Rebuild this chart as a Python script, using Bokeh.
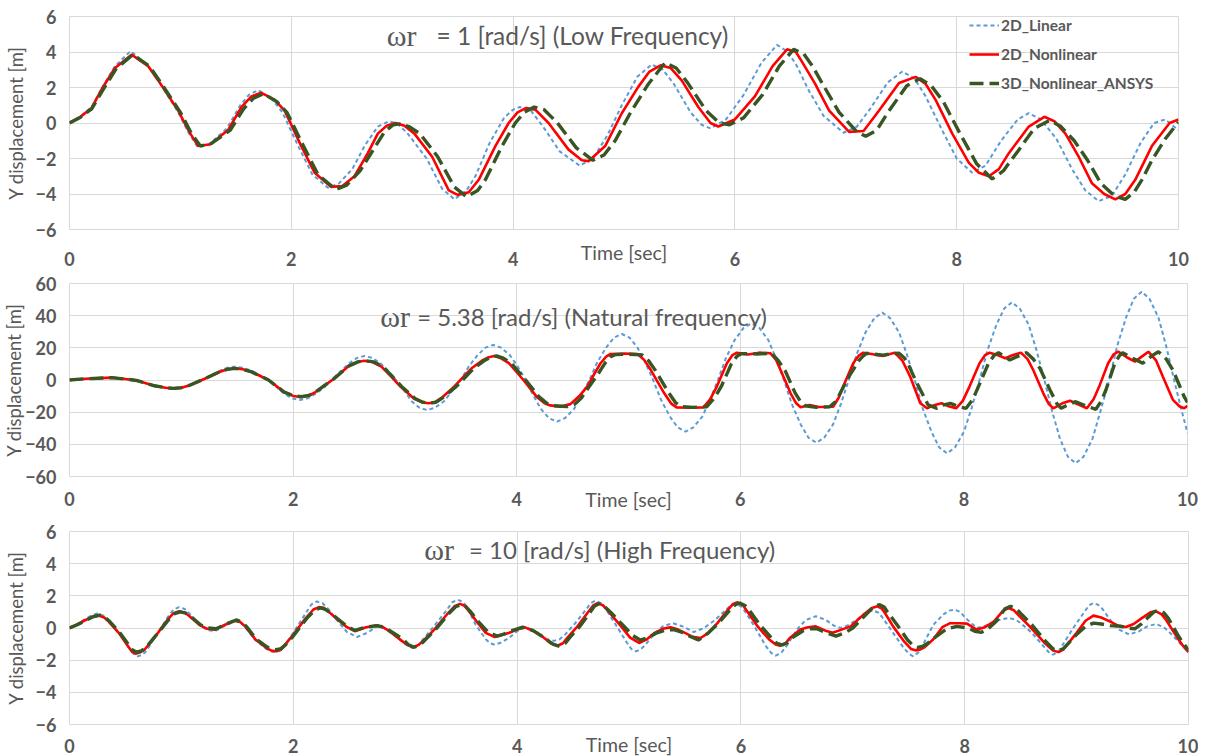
from bokeh.plotting import figure
from bokeh.models import Range1d, FixedTicker, Label, Legend, LegendItem
from bokeh.layouts import column
from bokeh.embed import file_html
from bokeh.resources import INLINE

# ---------------- data (time [s], Y displacement [m]) ----------------
# Panel 1: wr = 1 rad/s
p1_linear = [(0,0),(0.1,0.38),(0.2,0.9),(0.29,1.95),(0.41,3.2),(0.55,4.05),(0.7,3.3),(0.8,2.4),(0.98,0.6),(1.07,-0.5),(1.15,-1.3),(1.25,-1.25),(1.42,-0.3),(1.54,1.0),(1.62,1.6),(1.70,1.85),(1.82,1.4),(1.92,0.6),(2.07,-1.4),(2.19,-2.9),(2.33,-3.65),(2.43,-3.4),(2.55,-2.6),(2.66,-1.3),(2.78,-0.2),(2.88,0.1),(2.96,-0.05),(3.05,-0.6),(3.22,-2.0),(3.36,-3.7),(3.47,-4.3),(3.58,-3.8),(3.66,-3.0),(3.79,-1.1),(3.92,0.3),(4.0,0.75),(4.06,0.9),(4.16,0.7),(4.27,-0.2),(4.42,-1.6),(4.6,-2.4),(4.72,-2.0),(4.85,-0.7),(4.98,1.0),(5.12,2.6),(5.25,3.3),(5.35,3.0),(5.45,2.2),(5.6,0.6),(5.7,-0.1),(5.78,-0.3),(5.92,0.2),(6.08,1.6),(6.24,3.4),(6.38,4.4),(6.48,4.0),(6.56,3.2),(6.66,1.9),(6.8,0.4),(6.98,-0.55),(7.1,-0.2),(7.22,0.8),(7.38,2.3),(7.51,2.9),(7.62,2.5),(7.72,1.5),(7.86,-0.3),(8.0,-2.0),(8.14,-2.8),(8.26,-2.4),(8.4,-1.0),(8.55,0.2),(8.65,0.55),(8.76,0.2),(8.9,-0.9),(9.04,-2.6),(9.16,-3.8),(9.28,-4.4),(9.4,-4.1),(9.52,-2.9),(9.66,-1.1),(9.78,0.0),(9.88,0.2),(10.0,-0.4)]
p1_nonlinear = [(0,0),(0.1,0.35),(0.2,0.85),(0.29,1.9),(0.41,3.1),(0.56,3.85),(0.71,3.2),(0.8,2.4),(0.98,0.7),(1.08,-0.5),(1.16,-1.3),(1.27,-1.2),(1.43,-0.4),(1.55,0.9),(1.64,1.5),(1.73,1.7),(1.85,1.3),(1.94,0.7),(2.09,-1.3),(2.21,-2.8),(2.36,-3.6),(2.46,-3.55),(2.57,-3.0),(2.69,-1.7),(2.78,-0.6),(2.86,-0.15),(2.94,0.0),(3.02,-0.15),(3.11,-0.6),(3.27,-1.9),(3.42,-3.8),(3.5,-4.05),(3.6,-3.9),(3.69,-3.2),(3.84,-1.3),(3.96,0.0),(4.04,0.6),(4.12,0.85),(4.2,0.75),(4.32,0.0),(4.5,-1.5),(4.62,-2.1),(4.68,-2.15),(4.83,-1.3),(4.98,0.55),(5.13,2.05),(5.23,2.9),(5.33,3.25),(5.42,3.1),(5.52,2.4),(5.67,0.9),(5.78,0.0),(5.85,-0.2),(6.0,0.2),(6.18,1.5),(6.34,3.2),(6.47,4.15),(6.55,4.0),(6.61,3.4),(6.72,2.25),(6.85,0.7),(7.03,-0.5),(7.16,-0.45),(7.30,0.7),(7.48,2.25),(7.63,2.6),(7.72,2.2),(7.81,1.3),(7.96,-0.6),(8.11,-2.25),(8.20,-2.8),(8.29,-3.0),(8.38,-2.6),(8.47,-1.7),(8.65,-0.2),(8.79,0.35),(8.88,0.1),(8.98,-0.6),(9.10,-1.9),(9.22,-3.4),(9.33,-4.0),(9.43,-4.3),(9.52,-4.0),(9.61,-3.2),(9.76,-1.3),(9.92,0.0),(10.0,0.2)]
p1_ansys = [(0,0),(0.1,0.33),(0.2,0.8),(0.3,1.85),(0.42,3.05),(0.57,3.85),(0.72,3.2),(0.82,2.3),(1.0,0.6),(1.1,-0.6),(1.18,-1.3),(1.28,-1.15),(1.45,-0.4),(1.57,0.8),(1.66,1.4),(1.75,1.65),(1.87,1.2),(1.96,0.6),(2.11,-1.3),(2.24,-2.9),(2.40,-3.75),(2.5,-3.5),(2.62,-2.7),(2.74,-1.5),(2.84,-0.5),(2.92,-0.1),(2.98,-0.05),(3.06,-0.2),(3.16,-0.6),(3.32,-1.9),(3.47,-3.6),(3.58,-4.15),(3.68,-3.8),(3.75,-3.2),(3.9,-1.3),(4.02,0.0),(4.1,0.6),(4.19,0.9),(4.28,0.75),(4.4,0.0),(4.57,-1.4),(4.72,-2.1),(4.82,-1.8),(4.92,-1.0),(5.06,0.6),(5.22,2.2),(5.37,3.4),(5.47,3.1),(5.57,2.3),(5.74,0.7),(5.86,0.0),(5.95,-0.1),(6.08,0.3),(6.25,1.6),(6.4,3.2),(6.53,4.15),(6.62,3.9),(6.7,3.2),(6.8,2.1),(6.94,0.6),(7.1,-0.5),(7.18,-0.75),(7.28,-0.4),(7.38,0.6),(7.55,2.1),(7.67,2.5),(7.77,2.1),(7.88,1.2),(8.03,-0.6),(8.18,-2.3),(8.32,-3.15),(8.42,-2.7),(8.55,-1.6),(8.7,-0.3),(8.84,0.15),(8.94,-0.2),(9.06,-1.0),(9.18,-2.1),(9.3,-3.4),(9.42,-4.1),(9.52,-4.3),(9.6,-3.9),(9.67,-3.2),(9.76,-2.1),(9.88,-0.9),(10.0,0.05)]

# Panel 2: wr = 5.38 rad/s
p2_linear = [(0,0),(0.15,0.8),(0.375,1.5),(0.5,0.6),(0.6,-0.3),(0.76,-3.8),(0.86,-4.9),(0.93,-5.3),(1.0,-4.9),(1.07,-3.5),(1.2,0.5),(1.34,5.6),(1.41,7.6),(1.48,8.3),(1.55,7.6),(1.63,5.8),(1.78,0),(1.92,-8.5),(1.99,-11.4),(2.06,-12.4),(2.13,-11.4),(2.2,-8.7),(2.28,-4.5),(2.35,0.5),(2.43,5.8),(2.5,10.3),(2.57,13.7),(2.64,14.9),(2.71,13.7),(2.78,10.5),(2.85,5.7),(2.92,0),
             (3.0,-7.1),(3.06,-13.2),(3.13,-17.2),(3.2,-18.7),(3.27,-17.2),(3.35,-13.2),(3.42,-7.1),(3.5,0),
             (3.57,8.3),(3.65,15.4),(3.72,20.1),(3.79,21.8),(3.86,20.1),(3.94,15.4),(4.01,8.3),(4.08,0),
             (4.15,-9.8),(4.22,-18.3),(4.29,-23.8),(4.36,-25.9),(4.43,-23.8),(4.51,-18.3),(4.58,-9.8),(4.65,0),
             (4.72,10.9),(4.8,20.2),(4.87,26.3),(4.94,28.6),(5.01,26.3),(5.08,20.2),(5.15,10.9),(5.22,0),
             (5.29,-12.2),(5.37,-22.7),(5.44,-29.5),(5.51,-32.1),(5.58,-29.5),(5.66,-22.7),(5.73,-12.2),(5.80,0),
             (5.87,13.4),(5.95,24.9),(6.03,32.4),(6.10,35.2),(6.17,32.4),(6.25,24.9),(6.32,13.4),(6.39,0),
             (6.46,-14.8),(6.54,-27.6),(6.61,-35.9),(6.68,-39),(6.75,-35.9),(6.83,-27.6),(6.9,-14.8),(6.97,0),
             (7.04,15.9),(7.12,29.6),(7.2,38.5),(7.27,41.9),(7.34,38.5),(7.42,29.6),(7.49,15.9),(7.56,0),
             (7.63,-17.3),(7.71,-32.2),(7.78,-42),(7.85,-45.6),(7.92,-42),(8.0,-32.2),(8.07,-17.3),(8.14,0),
             (8.21,18.4),(8.29,34.2),(8.36,44.4),(8.43,48.3),(8.5,44.4),(8.58,34.2),(8.65,18.4),(8.72,0),
             (8.79,-19.7),(8.86,-36.6),(8.93,-47.7),(9.0,-51.8),(9.07,-47.7),(9.15,-36.6),(9.22,-19.7),(9.30,0),
             (9.37,20.9),(9.45,38.8),(9.52,50.5),(9.59,54.9),(9.66,50.5),(9.74,38.8),(9.81,20.9),(9.88,0),(9.94,-17),(10,-33)]
p2_nonlinear = [(0,0),(0.15,0.8),(0.375,1.45),(0.5,0.6),(0.6,-0.3),(0.76,-3.6),(0.86,-4.8),(0.93,-5.2),(1.0,-4.8),(1.07,-3.4),(1.2,0.5),(1.34,5.0),(1.41,6.7),(1.48,7.3),(1.55,6.7),(1.63,5.0),(1.78,0),(1.92,-7.5),(2.0,-9.9),(2.07,-10.6),(2.14,-9.8),(2.2,-7.5),(2.36,0.5),(2.5,8.8),(2.58,11.3),(2.64,12.0),(2.71,11.2),(2.79,8.3),(2.88,2),(2.96,-4.1),(3.08,-11.5),(3.15,-13.8),(3.21,-14.5),(3.27,-13.8),(3.33,-11),(3.44,-4.1),(3.6,7.5),(3.7,12.5),(3.75,14.2),(3.80,14.9),(3.86,13.5),(3.93,10.5),(4.06,0),(4.18,-10.5),(4.25,-14.5),(4.30,-15.8),(4.39,-16.6),(4.48,-15),(4.56,-10),(4.63,-4.1),(4.70,4.5),(4.75,10.4),(4.80,14.5),(4.84,16.2),(4.96,16.5),(5.08,16.2),(5.14,12.5),(5.20,6.2),(5.32,-8.3),(5.38,-14.5),(5.43,-17),(5.55,-17.2),(5.67,-17),(5.73,-12),(5.79,-4.1),(5.88,10.4),(5.93,15.5),(5.97,17),(6.07,15.8),(6.17,17),(6.27,16.6),(6.32,12.5),(6.36,6.2),(6.45,-8.3),(6.50,-14.5),(6.54,-17),(6.62,-15.5),(6.70,-16.8),(6.83,-16.6),(6.88,-11),(6.92,-4.1),(7.01,10.4),(7.06,15.2),(7.10,17),(7.20,15.8),(7.28,15),(7.38,17),(7.45,12),(7.52,2),(7.61,-14.5),(7.67,-17.6),(7.74,-15.5),(7.80,-14.5),(7.87,-16.5),(7.93,-17.6),(7.99,-13),(8.05,-4.1),(8.14,10.4),(8.19,15.5),(8.23,17),(8.30,15.5),(8.37,13.5),(8.44,15.5),(8.51,17),(8.57,13),(8.62,6.2),(8.71,-8.3),(8.76,-15),(8.80,-17.6),(8.88,-14.5),(8.95,-12.9),(9.03,-15.5),(9.10,-17.6),(9.16,-12),(9.21,-4.1),(9.29,10.4),(9.34,16),(9.38,17.6),(9.46,14),(9.53,11.4),(9.60,15),(9.65,17.6),(9.72,12),(9.78,2),(9.87,-12.4),(9.93,-16.5),(9.97,-17.6),(10,-16)]
p2_ansys = [(0,0),(0.15,0.8),(0.375,1.45),(0.5,0.6),(0.6,-0.3),(0.76,-3.6),(0.86,-4.8),(0.93,-5.2),(1.0,-4.8),(1.07,-3.4),(1.2,0.5),(1.34,5.0),(1.41,6.6),(1.48,7.2),(1.55,6.6),(1.63,5.0),(1.78,0),(1.92,-7.5),(2.0,-9.7),(2.07,-10.4),(2.14,-9.6),(2.2,-7.5),(2.36,0.5),(2.5,8.8),(2.58,11.3),(2.65,12.0),(2.72,11.3),(2.8,8.5),(2.89,2),(2.97,-4.0),(3.09,-11.5),(3.16,-13.8),(3.22,-14.5),(3.28,-13.8),(3.34,-11),(3.46,-4.0),(3.62,7.5),(3.72,12.5),(3.77,14.3),(3.82,15),(3.88,13.6),(3.95,10.5),(4.08,0),(4.20,-10.5),(4.27,-14.5),(4.33,-16),(4.45,-16.5),(4.52,-15),(4.58,-11),(4.63,-6),(4.68,-1),(4.74,5),(4.79,10.5),(4.84,14.5),(4.88,15.8),(5.0,16),(5.12,15.6),(5.18,12),(5.24,6),(5.36,-8),(5.42,-14),(5.47,-16.5),(5.58,-17),(5.70,-16.6),(5.77,-11),(5.83,-4),(5.92,10),(5.97,14.8),(6.01,16.4),(6.15,16.2),(6.28,16.6),(6.34,12),(6.40,6),(6.49,-8),(6.54,-13.5),(6.58,-16),(6.68,-17),(6.80,-16.6),(6.85,-13.5),(6.88,-10),(6.97,2),(7.06,12),(7.10,15),(7.13,16.6),(7.20,16.0),(7.28,15.5),(7.36,16.4),(7.42,16.6),(7.47,13.5),(7.50,10),(7.58,-2),(7.68,-15.5),(7.76,-17.6),(7.82,-15.5),(7.88,-14.5),(7.95,-16.5),(8.02,-17.6),(8.08,-12),(8.13,-4.1),(8.22,10.4),(8.27,15.3),(8.31,17),(8.36,14.8),(8.41,12.4),(8.49,15),(8.56,17),(8.62,13),(8.68,7.3),(8.77,-6.2),(8.83,-14.5),(8.87,-17.6),(8.94,-15),(9.0,-13.5),(9.09,-16),(9.18,-18.2),(9.23,-13),(9.27,-6.2),(9.35,10.4),(9.39,15),(9.42,17),(9.51,13.5),(9.60,10.4),(9.68,15),(9.74,17.6),(9.81,13),(9.87,6.2),(9.97,-10.4),(10,-14)]

# Panel 3: wr = 10 rad/s
p3_linear = [(0,0),(0.07,0.25),(0.13,0.5),(0.2,0.8),(0.25,0.9),(0.3,0.78),(0.35,0.45),(0.44,-0.3),(0.53,-1.2),(0.57,-1.6),(0.61,-1.76),(0.65,-1.68),(0.69,-1.4),(0.77,-0.5),(0.88,0.7),(0.93,1.15),(0.98,1.3),(1.03,1.18),(1.07,0.9),(1.16,0.2),(1.23,-0.12),(1.30,-0.2),(1.39,0.15),(1.48,0.45),(1.53,0.33),(1.57,0.05),(1.66,-0.75),(1.76,-1.3),(1.8,-1.45),(1.84,-1.5),(1.88,-1.4),(1.92,-1.1),(1.99,-0.4),(2.1,0.8),(2.16,1.45),(2.21,1.65),(2.26,1.55),(2.31,1.2),(2.40,0.4),(2.48,-0.25),(2.57,-0.56),(2.66,-0.3),(2.75,0.1),(2.81,0.0),(2.87,-0.3),(2.97,-0.8),(3.02,-1.1),(3.07,-1.25),(3.12,-1.05),(3.16,-0.7),(3.25,0.05),(3.37,1.1),(3.42,1.6),(3.47,1.76),(3.52,1.6),(3.56,1.2),(3.63,0.2),(3.72,-0.7),(3.76,-0.95),(3.80,-1.04),(3.86,-0.9),(3.93,-0.6),(4.0,-0.2),(4.07,0.05),(4.14,-0.1),(4.2,-0.4),(4.27,-0.7),(4.33,-0.8),(4.38,-0.7),(4.43,-0.4),(4.52,0.3),(4.61,1.1),(4.66,1.55),(4.70,1.7),(4.75,1.55),(4.8,1.1),(4.9,0.0),(4.98,-0.9),(5.02,-1.3),(5.06,-1.45),(5.10,-1.35),(5.14,-1.1),(5.22,-0.4),(5.30,0.1),(5.39,0.3),(5.48,0.1),(5.58,-0.25),(5.67,0.0),(5.77,0.5),(5.86,1.1),(5.91,1.4),(5.95,1.5),(6.0,1.35),(6.04,1.0),(6.13,0.0),(6.22,-1.1),(6.27,-1.55),(6.31,-1.72),(6.36,-1.55),(6.41,-1.1),(6.5,-0.1),(6.58,0.5),(6.67,0.73),(6.76,0.5),(6.83,0.15),(6.89,0.0),(6.97,0.2),(7.05,0.6),(7.12,0.98),(7.18,1.1),(7.23,0.95),(7.26,0.7),(7.34,-0.1),(7.44,-1.1),(7.5,-1.6),(7.54,-1.76),(7.59,-1.5),(7.63,-1.0),(7.72,0.2),(7.81,0.85),(7.86,1.08),(7.91,1.14),(7.96,1.0),(8.01,0.6),(8.11,0.0),(8.18,0.12),(8.26,0.35),(8.33,0.55),(8.40,0.62),(8.46,0.5),(8.5,0.3),(8.6,-0.3),(8.7,-1.1),(8.75,-1.5),(8.79,-1.65),(8.84,-1.45),(8.88,-1.0),(8.97,0.0),(9.06,0.9),(9.11,1.4),(9.15,1.55),(9.19,1.45),(9.23,1.2),(9.3,0.5),(9.38,-0.1),(9.47,-0.4),(9.56,-0.2),(9.63,0.1),(9.71,0.25),(9.78,0.05),(9.85,-0.4),(9.93,-1.0),(10,-1.5)]
p3_nonlinear = [(0,0),(0.07,0.22),(0.13,0.45),(0.2,0.68),(0.26,0.77),(0.31,0.65),(0.35,0.4),(0.44,-0.3),(0.52,-1.1),(0.555,-1.45),(0.59,-1.6),(0.63,-1.52),(0.67,-1.35),(0.77,-0.5),(0.88,0.55),(0.93,0.92),(0.98,1.04),(1.03,0.95),(1.07,0.75),(1.16,0.2),(1.23,-0.05),(1.30,-0.1),(1.39,0.2),(1.48,0.45),(1.53,0.35),(1.57,0.1),(1.66,-0.7),(1.76,-1.25),(1.81,-1.42),(1.85,-1.45),(1.89,-1.35),(1.92,-1.1),(1.99,-0.5),(2.11,0.6),(2.18,1.15),(2.23,1.3),(2.27,1.25),(2.31,1.05),(2.40,0.5),(2.48,0.05),(2.55,-0.2),(2.65,0.05),(2.74,0.15),(2.80,0.05),(2.86,-0.2),(2.97,-0.8),(3.02,-1.05),(3.07,-1.2),(3.12,-1.05),(3.16,-0.8),(3.26,-0.1),(3.38,0.9),(3.44,1.35),(3.49,1.5),(3.53,1.38),(3.57,1.05),(3.65,0.3),(3.72,-0.3),(3.80,-0.56),(3.86,-0.45),(3.93,-0.3),(4.0,-0.1),(4.07,0.04),(4.15,-0.2),(4.22,-0.5),(4.30,-0.95),(4.36,-1.1),(4.41,-0.95),(4.45,-0.6),(4.54,0.1),(4.63,0.95),(4.68,1.4),(4.72,1.55),(4.77,1.4),(4.82,1.0),(4.93,0.1),(5.01,-0.6),(5.09,-0.93),(5.16,-0.7),(5.23,-0.3),(5.30,-0.05),(5.37,0.04),(5.44,-0.1),(5.5,-0.3),(5.57,-0.55),(5.64,-0.62),(5.71,-0.3),(5.79,0.3),(5.88,1.1),(5.93,1.5),(5.97,1.6),(6.02,1.4),(6.06,1.0),(6.15,0.1),(6.25,-0.7),(6.31,-1.02),(6.35,-1.1),(6.40,-0.95),(6.44,-0.6),(6.53,-0.1),(6.60,0.05),(6.67,0.1),(6.75,-0.15),(6.82,-0.3),(6.9,-0.1),(6.98,0.1),(7.1,0.85),(7.17,1.25),(7.22,1.35),(7.26,1.2),(7.29,0.9),(7.36,0.1),(7.46,-0.85),(7.52,-1.3),(7.56,-1.39),(7.60,-1.35),(7.64,-1.2),(7.72,-0.7),(7.80,0.05),(7.87,0.3),(7.95,0.3),(8.02,0.27),(8.07,0.05),(8.11,-0.1),(8.18,0.05),(8.26,0.4),(8.34,1.05),(8.39,1.24),(8.44,1.1),(8.48,0.8),(8.58,0.1),(8.71,-0.9),(8.79,-1.4),(8.84,-1.5),(8.88,-1.35),(8.92,-1.0),(9.0,-0.3),(9.08,0.45),(9.15,0.77),(9.22,0.65),(9.3,0.4),(9.37,0.15),(9.44,0.06),(9.51,0.25),(9.58,0.6),(9.66,0.98),(9.71,1.04),(9.76,0.85),(9.8,0.5),(9.9,-0.6),(9.95,-1.1),(10,-1.5)]
p3_ansys = [(0,0),(0.07,0.2),(0.14,0.45),(0.21,0.7),(0.27,0.8),(0.32,0.65),(0.36,0.4),(0.45,-0.3),(0.53,-1.05),(0.565,-1.38),(0.6,-1.5),(0.64,-1.43),(0.68,-1.25),(0.78,-0.4),(0.89,0.55),(0.94,0.9),(0.99,1.0),(1.04,0.92),(1.08,0.75),(1.17,0.2),(1.24,0.0),(1.31,-0.05),(1.4,0.25),(1.49,0.5),(1.54,0.38),(1.58,0.1),(1.67,-0.7),(1.77,-1.2),(1.81,-1.32),(1.85,-1.35),(1.89,-1.28),(1.93,-1.05),(2.0,-0.5),(2.12,0.6),(2.19,1.1),(2.24,1.25),(2.28,1.18),(2.32,1.0),(2.41,0.5),(2.48,0.1),(2.55,-0.15),(2.65,0.05),(2.75,0.15),(2.81,0.05),(2.87,-0.2),(2.98,-0.7),(3.03,-1.05),(3.08,-1.2),(3.13,-1.05),(3.17,-0.8),(3.27,-0.1),(3.39,0.9),(3.45,1.32),(3.5,1.45),(3.54,1.35),(3.58,1.05),(3.66,0.35),(3.74,-0.25),(3.82,-0.5),(3.88,-0.38),(3.94,-0.2),(4.05,0.05),(4.14,-0.15),(4.22,-0.5),(4.32,-1.0),(4.38,-1.15),(4.43,-0.95),(4.47,-0.6),(4.56,0.1),(4.65,0.95),(4.69,1.35),(4.73,1.5),(4.78,1.35),(4.84,0.95),(4.95,0.15),(5.03,-0.45),(5.1,-0.75),(5.17,-0.6),(5.25,-0.3),(5.33,-0.12),(5.4,-0.1),(5.47,-0.25),(5.52,-0.45),(5.62,-0.75),(5.71,-0.3),(5.8,0.3),(5.9,1.1),(5.95,1.45),(5.99,1.55),(6.04,1.38),(6.08,1.05),(6.17,0.2),(6.27,-0.6),(6.32,-0.95),(6.37,-1.05),(6.42,-0.9),(6.46,-0.6),(6.55,-0.2),(6.62,-0.05),(6.68,-0.05),(6.76,-0.3),(6.85,-0.5),(6.93,-0.3),(7.0,0.0),(7.12,0.85),(7.19,1.35),(7.24,1.45),(7.28,1.3),(7.31,1.0),(7.4,0.15),(7.49,-0.75),(7.54,-1.1),(7.58,-1.2),(7.62,-1.15),(7.66,-1.0),(7.75,-0.5),(7.84,-0.05),(7.93,0.1),(8.03,0.0),(8.09,-0.2),(8.15,-0.27),(8.21,-0.05),(8.28,0.4),(8.36,1.2),(8.41,1.35),(8.46,1.2),(8.5,0.9),(8.6,0.2),(8.72,-0.8),(8.79,-1.3),(8.84,-1.4),(8.88,-1.3),(8.92,-1.0),(9.0,-0.4),(9.08,0.1),(9.15,0.3),(9.22,0.25),(9.3,0.15),(9.4,0.1),(9.46,0.0),(9.52,-0.05),(9.58,0.25),(9.63,0.6),(9.69,1.0),(9.73,1.1),(9.78,0.95),(9.82,0.6),(9.91,-0.5),(9.96,-1.0),(10,-1.4)]

x_ticks = [0, 2, 4, 6, 8, 10]
y_ticks_small = [-6, -4, -2, 0, 2, 4, 6]
y_ticks_big = [-60, -40, -20, 0, 20, 40, 60]
series_names = ["2D_Linear", "2D_Nonlinear", "3D_Nonlinear_ANSYS"]
titles = [("ωr", "= 1 [rad/s] (Low Frequency)"),
          ("ωr", "= 5.38 [rad/s] (Natural frequency)"),
          ("ωr", "= 10 [rad/s] (High Frequency)")]
x_label = "Time [sec]"
y_label = "Y displacement [m]"

# ---------------- styling ----------------
FONT = "Lato"
SERIF = "Liberation Serif"
GRAY = "#595959"
GRID = "#D9D9D9"
C_LIN, C_NL, C_AN = "#5B9BD5", "#FF0000", "#375623"


def split(pairs):
    return [a for a, _ in pairs], [b for _, b in pairs]


def panel(data, yr, yticks, fw, fh, bl, bt, bb, br, xstand, xlab_stand,
          ylab_stand, title, title_pos, title_size):
    p = figure(frame_width=fw, frame_height=fh,
               x_range=Range1d(0, 10), y_range=Range1d(*yr),
               output_backend="svg", toolbar_location=None,
               min_border_left=bl, min_border_top=bt,
               min_border_bottom=bb, min_border_right=br)
    p.background_fill_color = "white"
    p.border_fill_color = "white"
    p.outline_line_color = GRID
    p.xaxis.ticker = FixedTicker(ticks=x_ticks)
    p.yaxis.ticker = FixedTicker(ticks=yticks)
    for ax in (p.xaxis[0], p.yaxis[0]):
        ax.axis_line_color = None
        ax.major_tick_line_color = None
        ax.minor_tick_line_color = None
        ax.major_tick_out = 0
        ax.major_tick_in = 0
        ax.major_label_text_font = FONT
        ax.major_label_text_font_style = "bold"
        ax.major_label_text_font_size = "18px"
        ax.major_label_text_color = GRAY
    p.xaxis.major_label_standoff = xstand
    p.xaxis.axis_label = x_label
    p.xaxis.axis_label_text_font = FONT
    p.xaxis.axis_label_text_font_style = "normal"
    p.xaxis.axis_label_text_font_size = "19.5px"
    p.xaxis.axis_label_text_color = GRAY
    p.xaxis.axis_label_standoff = xlab_stand
    p.yaxis.major_label_standoff = 13
    p.yaxis.axis_label = y_label
    p.yaxis.axis_label_text_font = FONT
    p.yaxis.axis_label_text_font_style = "normal"
    p.yaxis.axis_label_text_font_size = "18.5px"
    p.yaxis.axis_label_text_color = GRAY
    p.yaxis.axis_label_standoff = ylab_stand
    p.xgrid.grid_line_color = GRID
    p.ygrid.grid_line_color = GRID

    (tl, yl), (tn, yn), (ta, ya) = [split(d) for d in data]
    r1 = p.line(tl, yl, line_color=C_LIN, line_width=2, line_dash="4 3")
    r2 = p.line(tn, yn, line_color=C_NL, line_width=2.6)
    r3 = p.line(ta, ya, line_color=C_AN, line_width=3.4, line_dash="14 6")

    (xw, xe, ty) = title_pos
    p.add_layout(Label(x=xw, y=ty, text=title[0], text_font=SERIF,
                       text_font_size="30px", text_color=GRAY,
                       text_baseline="middle", text_align="left"))
    p.add_layout(Label(x=xe, y=ty, text=title[1], text_font=FONT,
                       text_font_size=title_size, text_color=GRAY,
                       text_baseline="middle", text_align="left"))
    return p, (r1, r2, r3)


p1, rs = panel([p1_linear, p1_nonlinear, p1_ansys], (-6, 6), y_ticks_small,
               1109, 213, 60, 16, 40, 20, 22, -28, 6,
               titles[0], (2.86, 3.31, 4.95), "24.5px")
p2, _ = panel([p2_linear, p2_nonlinear, p2_ansys], (-60, 60), y_ticks_big,
              1118, 193, 60, 14, 33, 11, 15, -21, -3,
              titles[1], (2.78, 3.11, 39.7), "24px")
p3, _ = panel([p3_linear, p3_nonlinear, p3_ansys], (-6, 6), y_ticks_small,
              1119, 193, 59, 18, 35, 11, 14, -23, 6,
              titles[2], (3.17, 3.57, 4.86), "24px")

legend = Legend(items=[LegendItem(label=n, renderers=[r]) for n, r in zip(series_names, rs)],
                location=(900, 136))
legend.background_fill_alpha = 0
legend.border_line_color = None
legend.padding = 0
legend.margin = 0
legend.spacing = 9
legend.glyph_width = 30
legend.glyph_height = 20
legend.label_height = 20
legend.label_standoff = 2
legend.label_text_font = FONT
legend.label_text_font_style = "bold"
legend.label_text_font_size = "15.5px"
legend.label_text_color = GRAY
p1.add_layout(legend)

layout = column(p1, p2, p3, spacing=0)
open("out.html", "w").write(file_html(layout, INLINE))
